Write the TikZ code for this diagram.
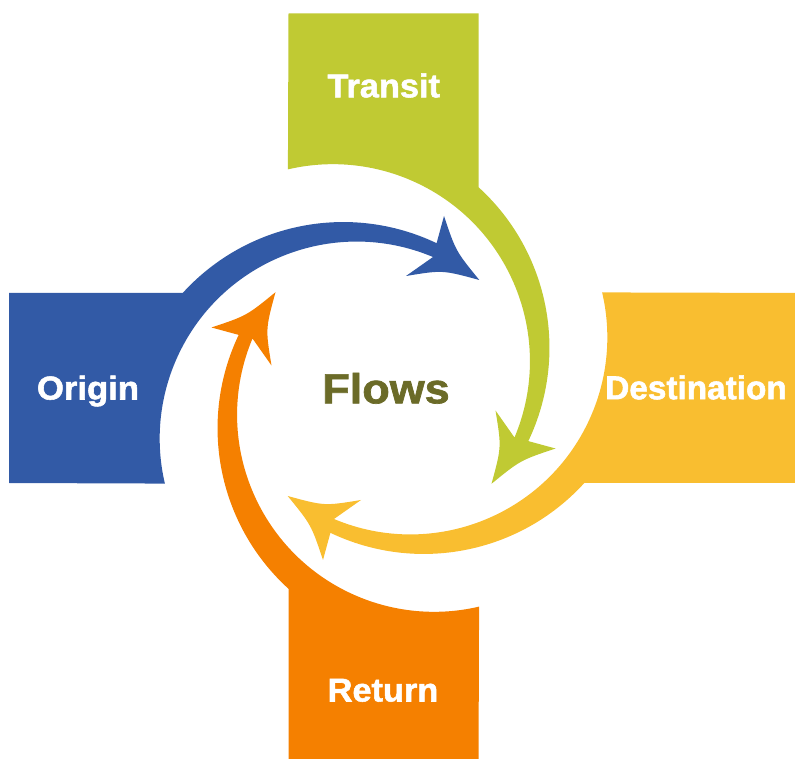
\documentclass[tikz,border=0pt]{standalone}
\usepackage{fontspec}
\setmainfont{Liberation Sans}
\newfontfamily\heavyfont[FakeBold=1.6]{Liberation Sans Bold}
\definecolor{cblue}{HTML}{325AA6}
\definecolor{cgreen}{HTML}{C0CA33}
\definecolor{cyellow}{HTML}{F9BE30}
\definecolor{corange}{HTML}{F58000}
\definecolor{colive}{HTML}{6B6B28}
% one piece: rectangle + tapering arc + arrowhead, drawn in the Origin frame
\newcommand\flowpiece[3]{%
  \fill[#1, rotate around={#2:(383.5,370)}]
    (#3,275) -- (#3,465) -- (182.7,465)
    arc[start angle=137.7, end angle=64.5, radius=217pt]
    -- (444,542) .. controls (455.8,506.8) .. (479.3,478)
    .. controls (442.6,488) .. (406,482) -- (433,501)
    arc[start angle=67.2, end angle=193.2, radius=197pt] -- cycle;}
\begin{document}
\begin{tikzpicture}[x=1pt,y=1pt,
  lab/.style={text=white, anchor=base, inner sep=0pt,
    font=\fontsize{33}{33}\selectfont\heavyfont},
  title/.style={text=colive, anchor=base, inner sep=0pt,
    font=\fontsize{42}{42}\selectfont\heavyfont}]
\useasboundingbox (0,0) rectangle (795,758);
\clip (0,0) rectangle (795,758);
\flowpiece{cblue}{0}{9}
\flowpiece{cgreen}{-90}{8.8}
\flowpiece{cyellow}{-180}{-40}
\flowpiece{corange}{-270}{0}
\node[lab] (origin) at (88,358.5) {\scalebox{1.05}[1]{Origin}};
\node[lab] (transit) at (383.7,660.7) {\scalebox{1.04}[1]{Transit}};
\node[lab] (destination) at (696,358.8) {\scalebox{1.01}[1]{Destination}};
\node[lab] (return) at (383,56.5) {\scalebox{1.04}[1]{Return}};
\node[title] (flows) at (386,354.7) {\scalebox{1.07}[1]{Flows}};
\end{tikzpicture}
\end{document}
